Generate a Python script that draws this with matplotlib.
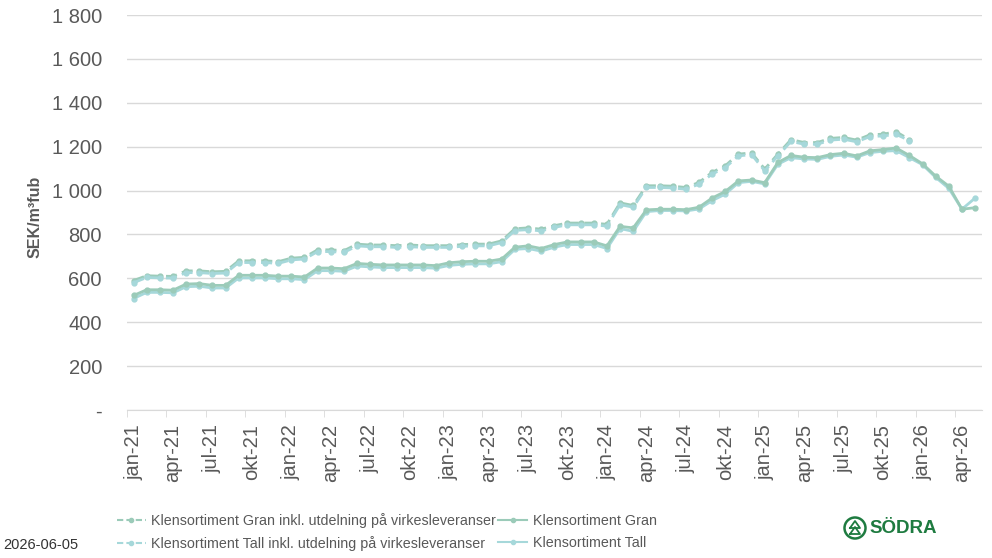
import matplotlib
matplotlib.use('Agg')
import matplotlib.pyplot as plt
from matplotlib.lines import Line2D
from matplotlib.patches import Ellipse
from matplotlib.ticker import FuncFormatter
import numpy as np

plt.rcParams['font.family'] = ['Liberation Sans', 'DejaVu Sans']

# monthly prices, jan-21 .. may-26 (solid) and jan-21 .. dec-25 (dashed)
gran = [522, 548, 548, 546, 574, 576, 568, 568, 614, 614, 614, 610, 610, 606, 647, 647, 644,
        668, 664, 661, 661, 661, 661, 658, 671, 676, 678, 678, 688, 742, 748, 736, 754, 766,
        766, 766, 748, 837, 830, 912, 915, 915, 913, 924, 966, 996, 1044, 1048, 1036, 1128,
        1160, 1152, 1150, 1164, 1170, 1158, 1181, 1187, 1194, 1160, 1122, 1066, 1020, 915, 922]
tall = [508, 536, 536, 534, 562, 564, 556, 556, 602, 602, 602, 598, 598, 594, 635, 635, 632,
        656, 652, 649, 649, 649, 649, 646, 659, 664, 666, 666, 676, 732, 736, 724, 742, 754,
        754, 754, 736, 827, 814, 904, 909, 909, 907, 916, 954, 984, 1036, 1042, 1030, 1120,
        1150, 1144, 1142, 1156, 1162, 1152, 1173, 1179, 1182, 1150, 1118, 1060, 1010, 915, 966]
gran_inkl = [590, 612, 610, 609, 634, 634, 630, 632, 680, 680, 680, 676, 692, 696, 730, 730,
             726, 756, 752, 752, 749, 752, 749, 749, 749, 754, 756, 756, 771, 826, 830, 824,
             840, 852, 852, 852, 846, 944, 932, 1022, 1022, 1020, 1014, 1037, 1083, 1113, 1166,
             1172, 1098, 1166, 1232, 1219, 1219, 1238, 1242, 1230, 1254, 1257, 1268, 1232]
tall_inkl = [580, 604, 602, 601, 626, 626, 622, 624, 672, 672, 672, 668, 684, 688, 722, 722,
             718, 748, 744, 744, 741, 744, 741, 741, 741, 746, 748, 748, 763, 818, 822, 816,
             832, 844, 844, 844, 838, 936, 924, 1014, 1014, 1012, 1006, 1029, 1075, 1105, 1158,
             1164, 1090, 1158, 1224, 1211, 1211, 1230, 1234, 1222, 1246, 1249, 1256, 1228]

tick_labels = ['jan-21', 'apr-21', 'jul-21', 'okt-21', 'jan-22', 'apr-22', 'jul-22', 'okt-22',
               'jan-23', 'apr-23', 'jul-23', 'okt-23', 'jan-24', 'apr-24', 'jul-24', 'okt-24',
               'jan-25', 'apr-25', 'jul-25', 'okt-25', 'jan-26', 'apr-26']

c_gran = '#9bcbb9'
c_tall = '#a6d8da'
grey = '#595959'

fig = plt.figure(figsize=(9.92, 5.58), dpi=100)
ax = fig.add_axes([0.128, 0.2652, 0.8616, 0.7079])

x_inkl = np.arange(len(gran_inkl))
x_all = np.arange(len(gran))

style = dict(lw=2, marker='o', ms=3.5)
l1, = ax.plot(x_inkl, gran_inkl, color=c_gran, ls=(0, (4, 2)), **style,
              label='Klensortiment Gran inkl. utdelning på virkesleveranser')
l3, = ax.plot(x_inkl, tall_inkl, color=c_tall, ls=(0, (4, 2)), **style,
              label='Klensortiment Tall inkl. utdelning på virkesleveranser')
l4, = ax.plot(x_all, tall, color=c_tall, **style, label='Klensortiment Tall')
l2, = ax.plot(x_all, gran, color=c_gran, **style, label='Klensortiment Gran')

ax.set_xlim(-0.5, len(gran) - 0.5)
ax.set_ylim(0, 1800)
ax.set_yticks(np.arange(0, 1801, 200))


def fmt(v, pos):
    if v == 0:
        return '-'
    return f'{int(v):,}'.replace(',', ' ')


ax.yaxis.set_major_formatter(FuncFormatter(fmt))
ax.grid(axis='y', color='#d9d9d9', lw=1)
ax.set_axisbelow(True)
for s in ['top', 'right', 'left']:
    ax.spines[s].set_visible(False)
ax.spines['bottom'].set_color('#d9d9d9')
ax.tick_params(axis='y', length=0, pad=18, labelsize=14.5, labelcolor=grey)

ax.set_xticks(np.arange(0, len(gran), 3))
ax.set_xticklabels(tick_labels, rotation=90)
ax.set_xticks(np.arange(-0.5, len(gran), 3), minor=True)
ax.tick_params(axis='x', which='major', length=0, pad=10, labelsize=14.5, labelcolor=grey)
ax.tick_params(axis='x', which='minor', length=5, color='#d9d9d9')

ax.set_ylabel('SEK/m³fub', fontsize=11.5, fontweight='bold', color=grey)
ax.yaxis.set_label_coords(-0.099, 0.49)

leg_style = dict(lw=1.5, marker='o', ms=3, markevery=[1])
handles = [Line2D([0, 0.5, 1], [0, 0, 0], color=c_gran, ls=(0, (3, 1.5)), **leg_style),
           Line2D([0, 0.5, 1], [0, 0, 0], color=c_tall, ls=(0, (3, 1.5)), **leg_style),
           Line2D([0, 0.5, 1], [0, 0, 0], color=c_gran, **leg_style),
           Line2D([0, 0.5, 1], [0, 0, 0], color=c_tall, **leg_style)]
fig.legend(handles=handles, labels=[l1.get_label(), l3.get_label(), l2.get_label(), l4.get_label()],
           loc='center', bbox_to_anchor=(0.39, 0.047), ncol=2, numpoints=1,
           frameon=False, fontsize=10.3, labelcolor=grey, handlelength=2.0, handletextpad=0.4,
           columnspacing=0.15, labelspacing=0.55, borderpad=0)

fig.text(0.003, 0.023, '2026-06-05', fontsize=10.5, color='#333333', va='center')

# Södra logo
green = '#1e7b40'
fig.text(0.877, 0.053, 'SÖDRA', fontsize=13.5, fontweight='bold', color=green, va='center')
cx, cy, r = 855, 528, 10.5
fig.add_artist(Ellipse((cx / 992, 1 - cy / 558), 2 * r / 992, 2 * r / 558,
                       transform=fig.transFigure, fill=False, ec=green, lw=1.8))
for dy in (-5, 1):
    xs = np.array([cx - 5, cx, cx + 5, cx - 5]) / 992
    ys = 1 - (np.array([cy + dy + 5, cy + dy - 2, cy + dy + 5, cy + dy + 5])) / 558
    fig.add_artist(Line2D(xs, ys, transform=fig.transFigure, color=green, lw=1.3))

fig.savefig('out.png', dpi=100)
